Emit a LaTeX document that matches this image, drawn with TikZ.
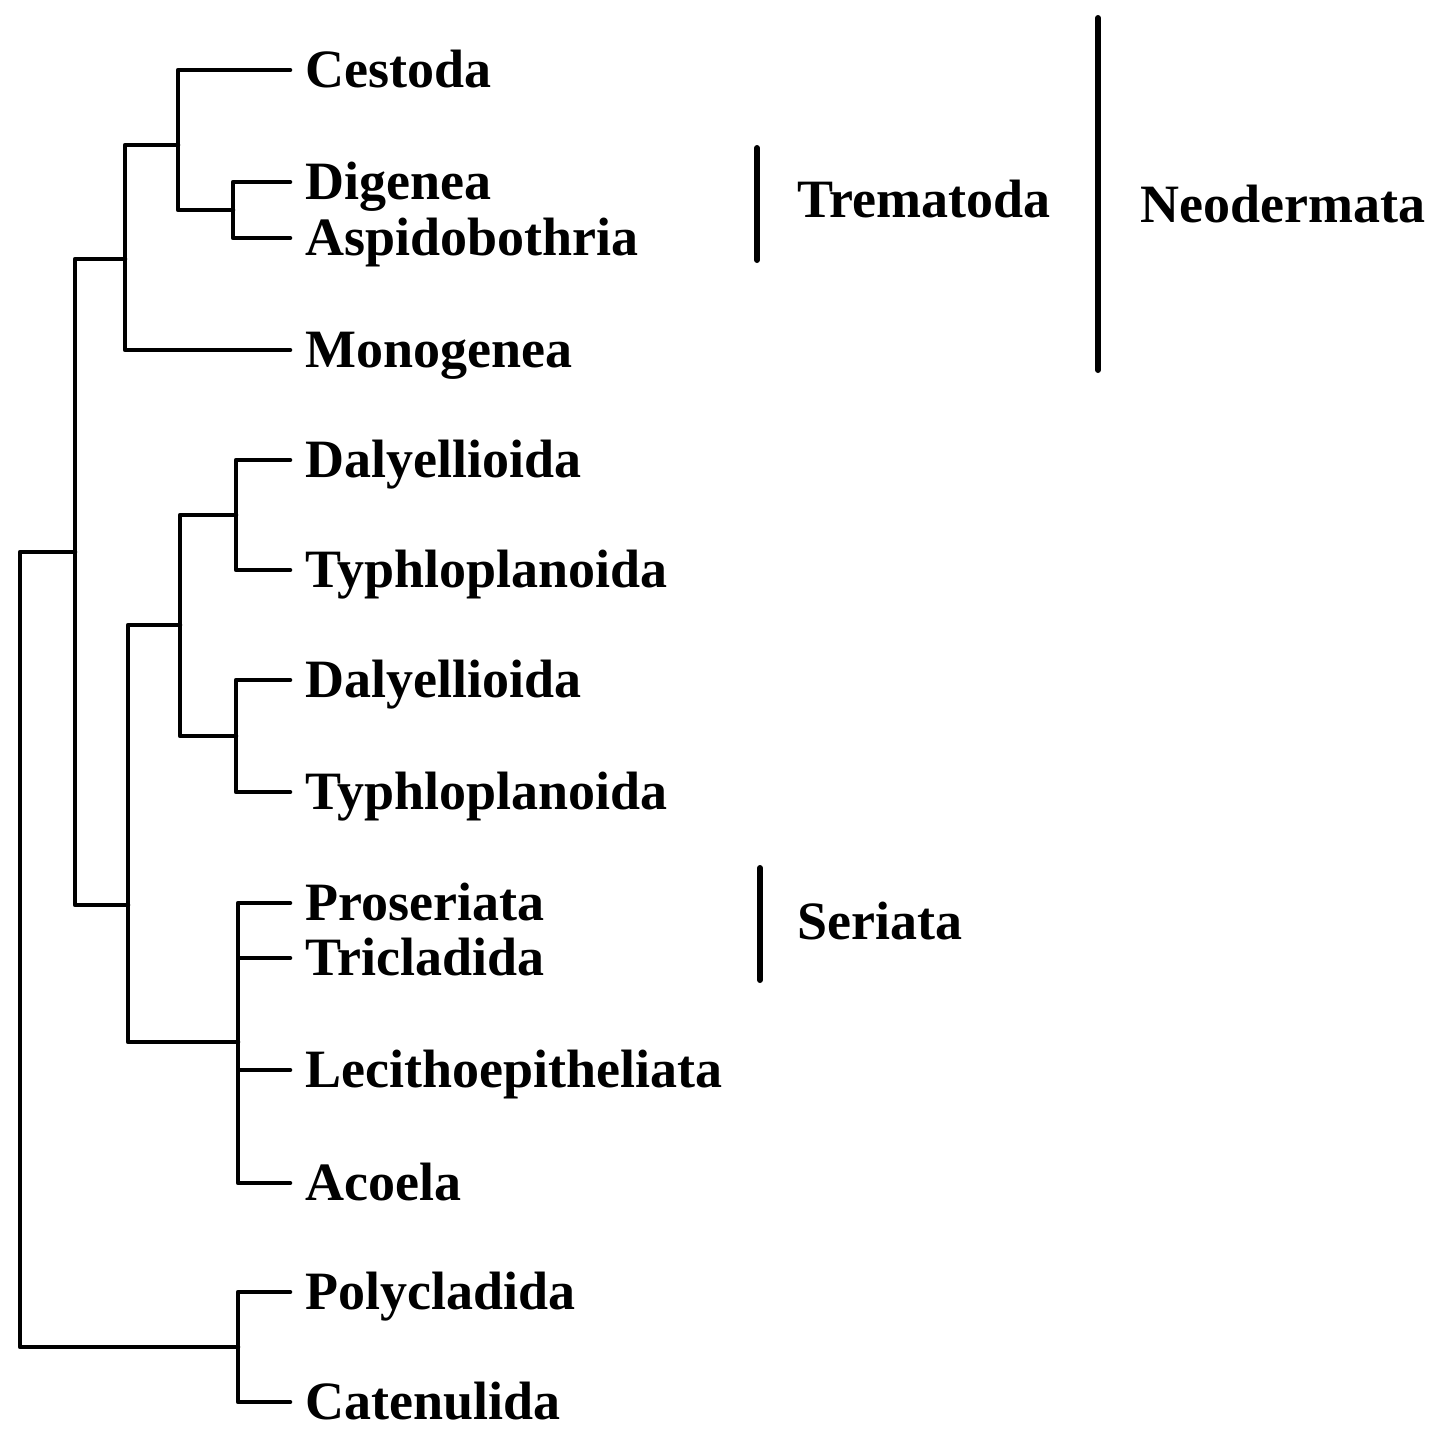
\documentclass[tikz,border=0pt]{standalone}
\usepackage{fontspec}
\setmainfont{Liberation Serif}
\begin{document}
\begin{tikzpicture}[x=0.5pt,y=-0.5pt,
  branch/.style={line width=2.3pt,line cap=round,line join=round},
  bar/.style={line width=3pt,line cap=round},
  leaf/.style={anchor=west,inner xsep=7.5pt,inner ysep=0pt,text height=22pt,text depth=5pt,font=\fontsize{27}{30}\selectfont\bfseries},
  grp/.style={anchor=west,inner sep=0pt,text height=22pt,text depth=5pt,font=\fontsize{27}{30}\selectfont\bfseries}]
\useasboundingbox (0,0) rectangle (1452,1442);
% leaves
\node[leaf] (ces) at (290,70) {Cestoda};
\node[leaf] (dig) at (290,182) {Digenea};
\node[leaf] (asp) at (290,238) {Aspidobothria};
\node[leaf] (mon) at (290,350) {Monogenea};
\node[leaf] (dal1) at (290,460) {Dalyellioida};
\node[leaf] (typ1) at (290,570) {Typhloplanoida};
\node[leaf] (dal2) at (290,680) {Dalyellioida};
\node[leaf] (typ2) at (290,792) {Typhloplanoida};
\node[leaf] (pro) at (290,903) {Proseriata};
\node[leaf] (tri) at (290,958) {Tricladida};
\node[leaf] (lec) at (290,1070) {Lecithoepitheliata};
\node[leaf] (aco) at (290,1183) {Acoela};
\node[leaf] (pol) at (290,1292) {Polycladida};
\node[leaf] (cat) at (290,1402) {Catenulida};
% internal nodes
\coordinate (da) at (233,210);
\coordinate (cda) at (178,145);
\coordinate (neo) at (125,259);
\coordinate (d1) at (236,515);
\coordinate (d2) at (236,736);
\coordinate (dd) at (180,625);
\coordinate (ser) at (238,1042);
\coordinate (rh) at (128,905);
\coordinate (main) at (75,552);
\coordinate (pc) at (238,1347);
\coordinate (root) at (20,950);
% branches
\draw[branch] (da) |- (dig.west);
\draw[branch] (da) |- (asp.west);
\draw[branch] (cda) |- (ces.west);
\draw[branch] (cda) |- (da);
\draw[branch] (neo) |- (cda);
\draw[branch] (neo) |- (mon.west);
\draw[branch] (d1) |- (dal1.west);
\draw[branch] (d1) |- (typ1.west);
\draw[branch] (d2) |- (dal2.west);
\draw[branch] (d2) |- (typ2.west);
\draw[branch] (dd) |- (d1);
\draw[branch] (dd) |- (d2);
\draw[branch] (ser) |- (pro.west);
\draw[branch] (ser) |- (tri.west);
\draw[branch] (ser) |- (lec.west);
\draw[branch] (ser) |- (aco.west);
\draw[branch] (rh) |- (dd);
\draw[branch] (rh) |- (ser);
\draw[branch] (main) |- (neo);
\draw[branch] (main) |- (rh);
\draw[branch] (pc) |- (pol.west);
\draw[branch] (pc) |- (cat.west);
\draw[branch] (root) |- (main);
\draw[branch] (root) |- (pc);
% group bars
\coordinate (tremT) at (757,148);
\coordinate (tremB) at (757,260);
\coordinate (neoT) at (1098,18);
\coordinate (neoB) at (1098,370);
\coordinate (serT) at (760,868);
\coordinate (serB) at (760,980);
\draw[bar] (tremT) -- (tremB);
\draw[bar] (neoT) -- (neoB);
\draw[bar] (serT) -- (serB);
\node[grp] (trem) at (797,200) {Trematoda};
\node[grp] (neod) at (1140,205) {Neodermata};
\node[grp] (seri) at (797,922) {Seriata};
\end{tikzpicture}
\end{document}
